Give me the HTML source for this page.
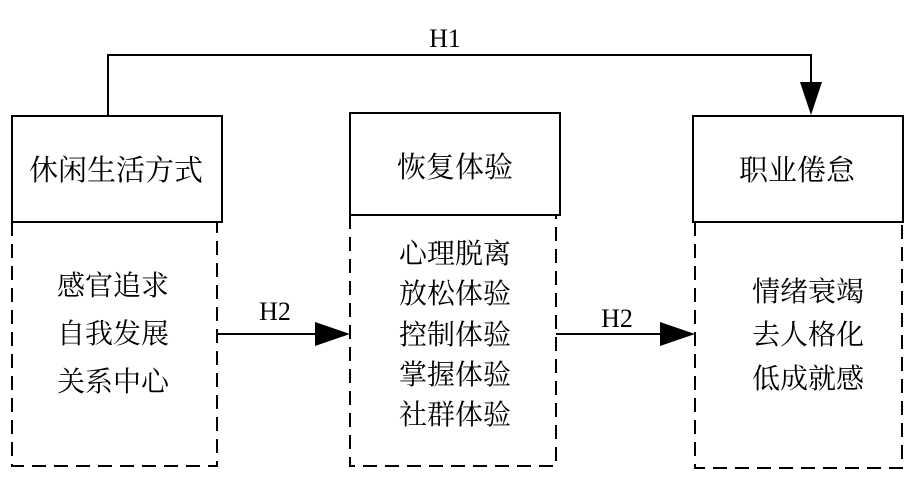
<!DOCTYPE html>
<html><head><meta charset="utf-8"><style>
body{margin:0;background:#fff;}
svg text{font-family:"Liberation Serif","Noto Serif CJK SC","Noto Sans CJK SC",serif;fill:#000;}
</style></head><body>
<svg width="909" height="488" viewBox="0 0 909 488" xmlns="http://www.w3.org/2000/svg">
<g fill="none" stroke="#000" stroke-width="2">
<rect x="12" y="116" width="210" height="106"/>
<rect x="350" y="113" width="210" height="102"/>
<rect x="693" y="116" width="210" height="106"/>
</g>
<g fill="none" stroke="#000" stroke-width="2" stroke-dasharray="14,8">
<path d="M12 222 V466 H217 V222"/>
<path d="M350 215 V466 H556 V215"/>
<path d="M695 222 V468 H902 V222"/>
</g>
<g stroke="#000" stroke-width="2" fill="none">
<path d="M108 116 V55 H811 V85"/>
<line x1="217" y1="334" x2="318" y2="334"/>
<line x1="556" y1="334" x2="662" y2="334"/>
</g>
<g fill="#000">
<polygon points="800,82 822,82 811,115"/>
<polygon points="315,322 350,334 315,346"/>
<polygon points="660,322 695,334 660,346"/>
</g>
<g font-size="26" text-anchor="middle">
<text x="445" y="47">H1</text>
<text x="275" y="320">H2</text>
<text x="617" y="327">H2</text>
</g>
<g font-size="29" text-anchor="middle" style="font-family:'Noto Sans CJK SC',sans-serif">
<text x="116" y="180">休闲生活方式</text>
<text x="455" y="177">恢复体验</text>
<text x="797" y="180">职业倦怠</text>
</g>
<g font-size="28" text-anchor="middle" style="font-family:'Noto Sans CJK SC',sans-serif">
<text x="113" y="295">感官追求</text>
<text x="113" y="343">自我发展</text>
<text x="113" y="391">关系中心</text>
<text x="455" y="263">心理脱离</text>
<text x="455" y="303">放松体验</text>
<text x="455" y="344">控制体验</text>
<text x="455" y="384">掌握体验</text>
<text x="455" y="424">社群体验</text>
<text x="808" y="301">情绪衰竭</text>
<text x="808" y="344">去人格化</text>
<text x="808" y="388">低成就感</text>
</g>
</svg>
</body></html>
